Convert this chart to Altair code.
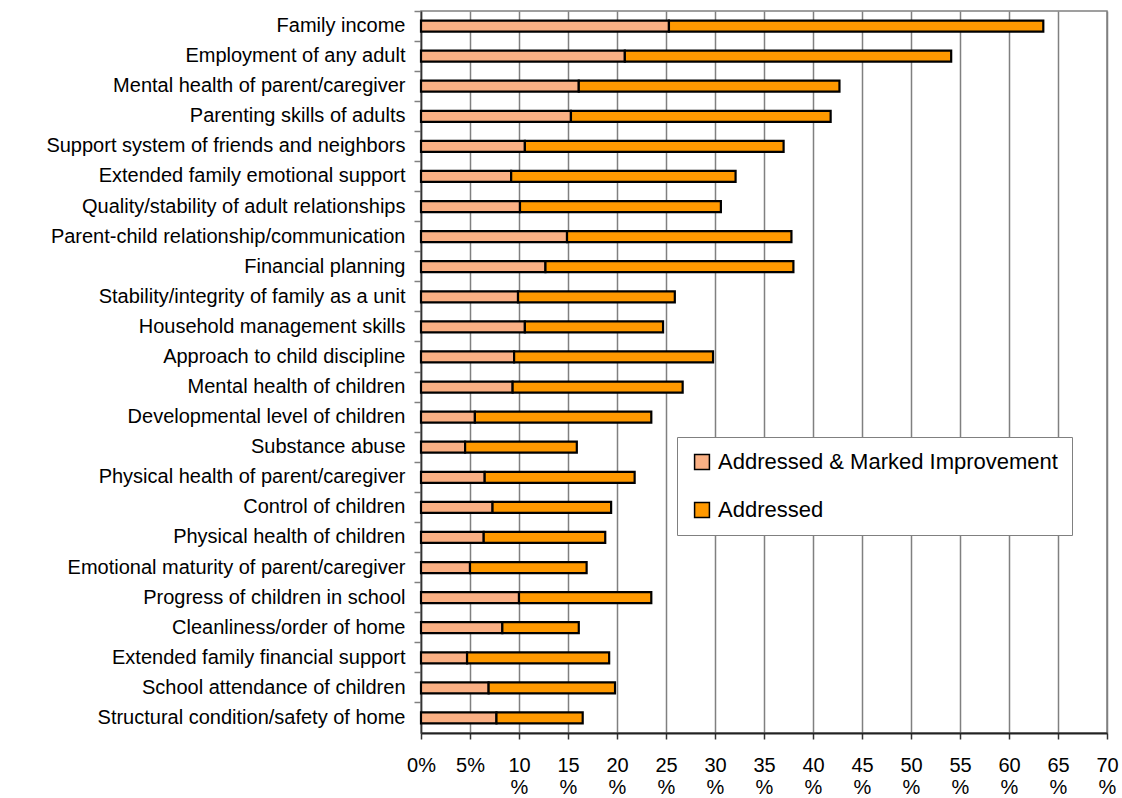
import altair as alt
import pandas as pd

categories = [
    "Family income",
    "Employment of any adult",
    "Mental health of parent/caregiver",
    "Parenting skills of adults",
    "Support system of friends and neighbors",
    "Extended family emotional support",
    "Quality/stability of adult relationships",
    "Parent-child relationship/communication",
    "Financial planning",
    "Stability/integrity of family as a unit",
    "Household management skills",
    "Approach to child discipline",
    "Mental health of children",
    "Developmental level of children",
    "Substance abuse",
    "Physical health of parent/caregiver",
    "Control of children",
    "Physical health of children",
    "Emotional maturity of parent/caregiver",
    "Progress of children in school",
    "Cleanliness/order of home",
    "Extended family financial support",
    "School attendance of children",
    "Structural condition/safety of home",
]

improved = [25.3, 20.8, 16.1, 15.3, 10.6, 9.2, 10.1, 14.9, 12.7, 9.9, 10.6, 9.5,
            9.35, 5.5, 4.5, 6.5, 7.3, 6.4, 5.0, 10.0, 8.3, 4.7, 6.9, 7.7]
addressed = [63.5, 54.1, 42.7, 41.8, 37.0, 32.1, 30.6, 37.8, 38.0, 25.9, 24.7, 29.8,
             26.7, 23.5, 15.9, 21.8, 19.4, 18.8, 16.9, 23.5, 16.1, 19.2, 19.8, 16.5]

series = ["Addressed & Marked Improvement", "Addressed"]
colors = ["#FAB084", "#FF9900"]
x_ticks = list(range(0, 75, 5))

rows = []
for c, imp, tot in zip(categories, improved, addressed):
    rows.append({"category": c, "series": series[0], "start": 0.0, "end": imp})
    rows.append({"category": c, "series": series[1], "start": imp, "end": tot})
df = pd.DataFrame(rows)

FONT = "Liberation Sans"

chart = (
    alt.Chart(df)
    .mark_bar(size=11, stroke="black", strokeWidth=2.2)
    .encode(
        y=alt.Y(
            "category:N",
            sort=categories,
            title=None,
            scale=alt.Scale(paddingInner=0, paddingOuter=0),
            axis=alt.Axis(
                bandPosition=0,
                labelFontSize=20,
                labelColor="black",
                labelPadding=9,
                tickSize=7,
                tickColor="#808080",
                tickWidth=1.5,
                domainColor="#333333",
                domainWidth=1.5,
                grid=False,
                labelLimit=450,
            ),
        ),
        x=alt.X(
            "start:Q",
            title=None,
            scale=alt.Scale(domain=[0, 70], nice=False, zero=True),
            axis=alt.Axis(
                values=x_ticks,
                labelExpr="datum.value < 10 ? datum.value + '%' : [toString(datum.value), '%']",
                labelFontSize=20,
                labelColor="black",
                labelLineHeight=22,
                labelPadding=16,
                tickSize=6,
                tickColor="#333333",
                tickWidth=1.5,
                domainColor="#222222",
                domainWidth=2,
                grid=True,
                gridColor="#808080",
                gridWidth=1.5,
                gridOpacity=1,
                labelFlush=False,
                labelOverlap=False,
            ),
        ),
        x2="end:Q",
        color=alt.Color(
            "series:N",
            sort=series,
            scale=alt.Scale(domain=series, range=colors),
            legend=alt.Legend(
                title=None,
                orient="none",
                legendX=256,
                legendY=426,
                fillColor="white",
                strokeColor="#808080",
                padding=14,
                rowPadding=26,
                symbolType="square",
                symbolSize=220,
                symbolStrokeColor="black",
                symbolStrokeWidth=1.5,
                symbolOpacity=1,
                labelFontSize=22,
                labelColor="black",
                labelOffset=5,
                labelLimit=500,
            ),
        ),
        order=alt.Order("series:N", sort="descending"),
    )
    .properties(
        width=686,
        height=722,
        padding={"left": 421, "top": 11, "right": 15, "bottom": 65},
        autosize=alt.AutoSizeParams(type="none"),
    )
    .configure(font=FONT)
    .configure_view(stroke="#808080", strokeWidth=1.5)
)

chart.save("out.html", embed_options={"renderer": "svg", "actions": False})
